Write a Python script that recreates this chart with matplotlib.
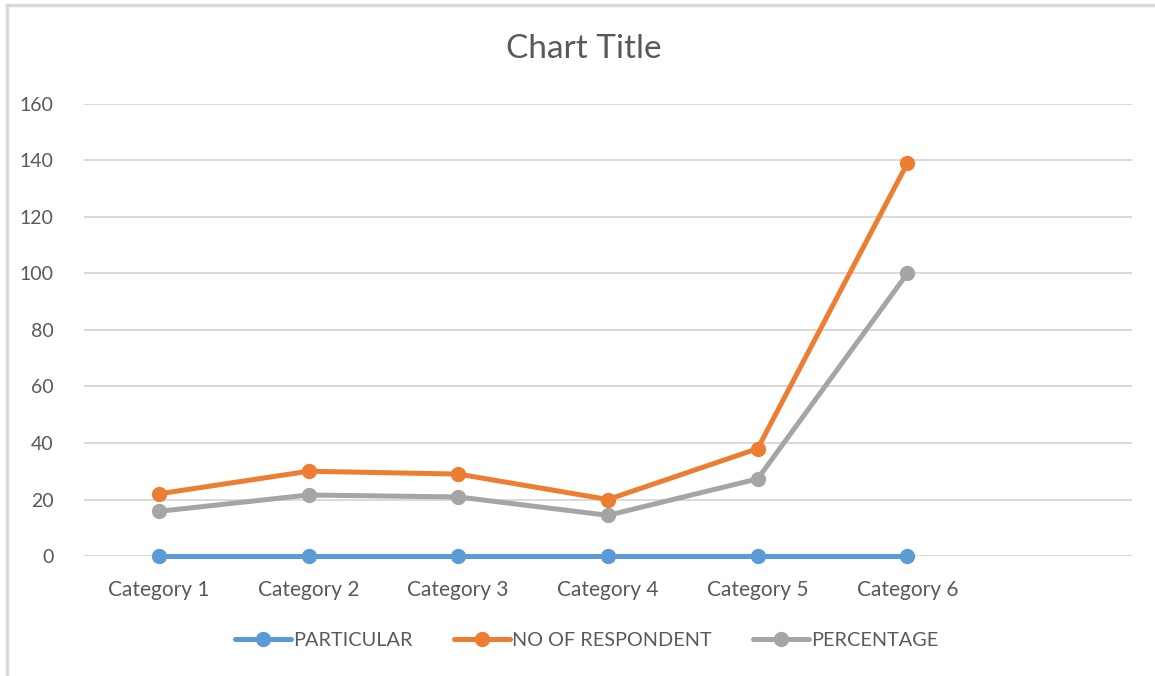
import matplotlib.pyplot as plt
from matplotlib.lines import Line2D

plt.rcParams['font.family'] = ['Lato', 'DejaVu Sans']

categories = ['Category 1', 'Category 2', 'Category 3', 'Category 4', 'Category 5', 'Category 6']
particular = [0, 0, 0, 0, 0, 0]
respondents = [22, 30, 29, 20, 38, 139]
percentage = [15.8, 21.6, 20.9, 14.4, 27.3, 100]
y_ticks = [0, 20, 40, 60, 80, 100, 120, 140, 160]

series = [
    ('PARTICULAR', particular, '#5B9BD5'),
    ('NO OF RESPONDENT', respondents, '#ED7D31'),
    ('PERCENTAGE', percentage, '#A5A5A5'),
]

text_col = '#595959'

fig = plt.figure(figsize=(11.55, 6.76), dpi=100)
ax = fig.add_axes([0.0727, 0.1775, 0.9073, 0.6687])

x = list(range(len(categories)))
for name, vals, col in series:
    ax.plot(x, vals, color=col, lw=3.6, marker='o', markersize=10,
            solid_capstyle='round', label=name, zorder=3, clip_on=False)

# one empty slot on the right, like the original sheet
ax.set_xlim(-0.5, len(categories) + 0.5)
ax.set_ylim(0, 160)
ax.set_yticks(y_ticks)
ax.set_xticks(x)
ax.set_xticklabels(categories)
ax.tick_params(length=0, labelsize=14, colors=text_col)
ax.tick_params(axis='x', labelsize=15, pad=17)
ax.tick_params(axis='y', pad=22)
ax.grid(axis='y', color='#D9D9D9', lw=1.4)
ax.set_axisbelow(True)
for s in ax.spines.values():
    s.set_visible(False)

fig.text(0.505, 0.928, 'Chart Title', ha='center', va='center',
         fontsize=24, color=text_col)

leg = fig.legend(loc='center', bbox_to_anchor=(0.508, 0.052), ncol=3,
                 frameon=False, fontsize=14.3, handlelength=2.8,
                 handletextpad=0.1, columnspacing=2.1)
for t in leg.get_texts():
    t.set_color(text_col)

# chart border (top and left edges only)
fig.add_artist(Line2D([0.0061, 1.0], [0.9926, 0.9926], color='#D9D9D9', lw=2.5,
                      transform=fig.transFigure))
fig.add_artist(Line2D([0.0061, 0.0061], [0.0, 0.9926], color='#D9D9D9', lw=2.5,
                      transform=fig.transFigure))

fig.savefig('out.png', dpi=100, facecolor='white')
